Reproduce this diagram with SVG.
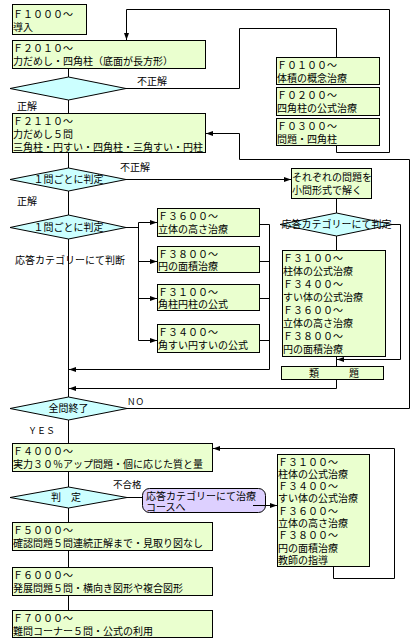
<svg xmlns="http://www.w3.org/2000/svg" width="419" height="639" viewBox="0 0 419 639">
<style>
.b{fill:#EAFFCF;stroke:#000;stroke-width:1}
.d{fill:#CCFFFF;stroke:#000;stroke-width:1}
.p{fill:#DDD0FF;stroke:#000;stroke-width:1}
.c{fill:none;stroke:#000;stroke-width:1}
.a{fill:none;stroke:#000;stroke-width:1;marker-end:url(#ah)}
text{font-family:"Liberation Sans","Noto Sans CJK JP","Noto Sans CJK SC",sans-serif;font-size:10px;fill:#000}
.m{text-anchor:middle}
</style>
<defs>
<marker id="ah" markerWidth="7" markerHeight="5" refX="7" refY="2.5" orient="auto" markerUnits="userSpaceOnUse"><path d="M0,0 L7,2.5 L0,5 z" fill="#000"/></marker>
</defs>
<rect width="419" height="639" fill="#fff"/>
<g id="connectors">
<path class="c" d="M68.5,68.5 V77 M68.5,100 V113.5 M68.5,152.5 V168 M68.5,191 V215 M68.5,239 V397 M68.5,420 V443.5 M68.5,471.5 V487 M68.5,508 V522.5 M68.5,550.5 V567.5 M68.5,595.5 V610.5"/>
<path class="a" d="M336.5,145.5 V152.5 H389.5 V9.5 H126.5 V40"/>
<path class="c" d="M126,88.5 H239.5 V28.5 H336.5 V57.5"/>
<path class="a" d="M127,408.5 H409.5 V159.5 H239.5 V133.5 H206"/>
<path class="a" d="M126,179.5 H291"/>
<path class="c" d="M336.5,198.5 V213 M336.5,236 V250.5 M336.5,356.5 V366.5"/>
<path class="a" d="M392,224.5 H400.5 V359.5 H337"/>
<path class="a" d="M336.5,379.5 V388.5 H69"/>
<path class="c" d="M126,227.5 H138.5 M138.5,222.5 V340.5"/>
<path class="a" d="M138.5,222.5 H157"/>
<path class="a" d="M138.5,261.5 H157"/>
<path class="a" d="M138.5,298.5 H157"/>
<path class="a" d="M138.5,340.5 H157"/>
<path class="c" d="M259.5,224.5 H269.5 M259.5,261.5 H269.5 M259.5,298.5 H269.5 M259.5,340.5 H269.5"/>
<path class="a" d="M269.5,224.5 V369.5 H69"/>
<path class="c" d="M127,497.5 H142.5"/>
<path class="a" d="M333.5,566.5 V578.5 H394.5 V448.5 H213"/>
</g>
<g id="f1000"><rect class="b" x="12.5" y="4.5" width="74" height="30"/><text x="13" y="17.5">Ｆ１０００～<tspan x="13" dy="13">導入</tspan></text></g>
<g id="f2010"><rect class="b" x="12.5" y="40.5" width="193" height="28"/><text x="13" y="52">Ｆ２０１０～<tspan x="13" dy="13">力だめし・四角柱（底面が長方形）</tspan></text></g>
<g id="d1"><polygon class="d" points="10,88.5 68.5,77 126,88.5 68.5,100"/></g>
<g id="f2110"><rect class="b" x="12.5" y="113.5" width="193" height="39"/><text x="13" y="124.5">Ｆ２１１０～<tspan x="13" dy="13">力だめし５問</tspan><tspan x="13" dy="13">三角柱・円すい・四角柱・三角すい・円柱</tspan></text></g>
<g id="f0100"><rect class="b" x="276.5" y="57.5" width="103" height="27"/><text x="277" y="68.5">Ｆ０１００～<tspan x="277" dy="13">体積の概念治療</tspan></text></g>
<g id="f0200"><rect class="b" x="276.5" y="87.5" width="103" height="28"/><text x="277" y="99">Ｆ０２００～<tspan x="277" dy="13">四角柱の公式治療</tspan></text></g>
<g id="f0300"><rect class="b" x="276.5" y="118.5" width="103" height="27"/><text x="277" y="130">Ｆ０３００～<tspan x="277" dy="13">問題・四角柱</tspan></text></g>
<g id="d2"><polygon class="d" points="10,179.5 68.5,168 126,179.5 68.5,191"/><text class="m" x="68.5" y="183">１問ごとに判定</text></g>
<g id="solve"><rect class="b" x="291.5" y="168.5" width="80" height="30"/><text x="292" y="180.5">それぞれの問題を<tspan x="292" dy="13">小問形式で解く</tspan></text></g>
<g id="d4"><polygon class="d" points="280,224.5 336.5,213 392,224.5 336.5,236"/><text class="m" x="336.5" y="228">応答カテゴリーにて判定</text></g>
<g id="d3"><polygon class="d" points="10,227.5 68.5,215 126,227.5 68.5,239"/><text class="m" x="68.5" y="231">１問ごとに判定</text></g>
<g id="f3600"><rect class="b" x="157.5" y="208.5" width="102" height="28"/><text x="158" y="220">Ｆ３６００～<tspan x="158" dy="13">立体の高さ治療</tspan></text></g>
<g id="f3800"><rect class="b" x="157.5" y="246.5" width="102" height="26"/><text x="158" y="257.5">Ｆ３８００～<tspan x="158" dy="12.5">円の面積治療</tspan></text></g>
<g id="f3100"><rect class="b" x="157.5" y="284.5" width="102" height="26"/><text x="158" y="295.5">Ｆ３１００～<tspan x="158" dy="12.5">角柱円柱の公式</tspan></text></g>
<g id="f3400"><rect class="b" x="157.5" y="324.5" width="102" height="28"/><text x="158" y="336">Ｆ３４００～<tspan x="158" dy="13">角すい円すいの公式</tspan></text></g>
<g id="treat1"><rect class="b" x="282.5" y="250.5" width="103" height="106"/>
<text x="283" y="261.5">Ｆ３１００～<tspan x="283" dy="13">柱体の公式治療</tspan><tspan x="283" dy="13">Ｆ３４００～</tspan><tspan x="283" dy="13">すい体の公式治療</tspan><tspan x="283" dy="13">Ｆ３６００～</tspan><tspan x="283" dy="13">立体の高さ治療</tspan><tspan x="283" dy="13">Ｆ３８００～</tspan><tspan x="283" dy="13">円の面積治療</tspan></text></g>
<g id="ruidai"><rect class="b" x="281.5" y="366.5" width="102" height="13"/><text class="m" x="334" y="377">類　　　題</text></g>
<g id="d5"><polygon class="d" points="10,408.5 68.5,397 127,408.5 68.5,420"/><text class="m" x="68.5" y="412">全問終了</text></g>
<g id="f4000"><rect class="b" x="12.5" y="443.5" width="200" height="28"/><text x="13" y="455">Ｆ４０００～<tspan x="13" dy="13">実力３０％アップ問題・個に応じた質と量</tspan></text></g>
<g id="d6"><polygon class="d" points="10,497.5 68.5,487 127,497.5 68.5,508"/><text class="m" x="66" y="501">判　定</text></g>
<g id="course"><rect class="p" x="142.5" y="488.5" width="123" height="24" rx="7"/><text x="146" y="499.5">応答カテゴリーにて治療<tspan x="146" dy="11.5">コースへ</tspan></text></g>
<path class="a" d="M253,505.5 H277"/>
<g id="treat2"><rect class="b" x="277.5" y="454.5" width="92" height="112"/>
<text x="278" y="465.5">Ｆ３１００～<tspan x="278" dy="12.3">柱体の公式治療</tspan><tspan x="278" dy="12.3">Ｆ３４００～</tspan><tspan x="278" dy="12.3">すい体の公式治療</tspan><tspan x="278" dy="12.3">Ｆ３６００～</tspan><tspan x="278" dy="12.3">立体の高さ治療</tspan><tspan x="278" dy="12.3">Ｆ３８００～</tspan><tspan x="278" dy="12.3">円の面積治療</tspan><tspan x="278" dy="12.3">教師の指導</tspan></text></g>
<g id="f5000"><rect class="b" x="12.5" y="522.5" width="200" height="28"/><text x="13" y="534">Ｆ５０００～<tspan x="13" dy="13">確認問題５問連続正解まで・見取り図なし</tspan></text></g>
<g id="f6000"><rect class="b" x="12.5" y="567.5" width="200" height="28"/><text x="13" y="579">Ｆ６０００～<tspan x="13" dy="13">発展問題５問・横向き図形や複合図形</tspan></text></g>
<g id="f7000"><rect class="b" x="12.5" y="610.5" width="200" height="27"/><text x="13" y="622">Ｆ７０００～<tspan x="13" dy="13">難問コーナー５問・公式の利用</tspan></text></g>
<g id="labels">
<text x="137" y="85">不正解</text>
<text x="17" y="110">正解</text>
<text x="120" y="171">不正解</text>
<text x="17" y="205">正解</text>
<text x="15" y="264">応答カテゴリーにて判断</text>
<text x="127" y="405" style="font-size:8.5px">ＮＯ</text>
<text x="28" y="434" style="font-size:9px">ＹＥＳ</text>
<text x="113" y="488" style="font-size:9.5px">不合格</text>
</g>
</svg>
